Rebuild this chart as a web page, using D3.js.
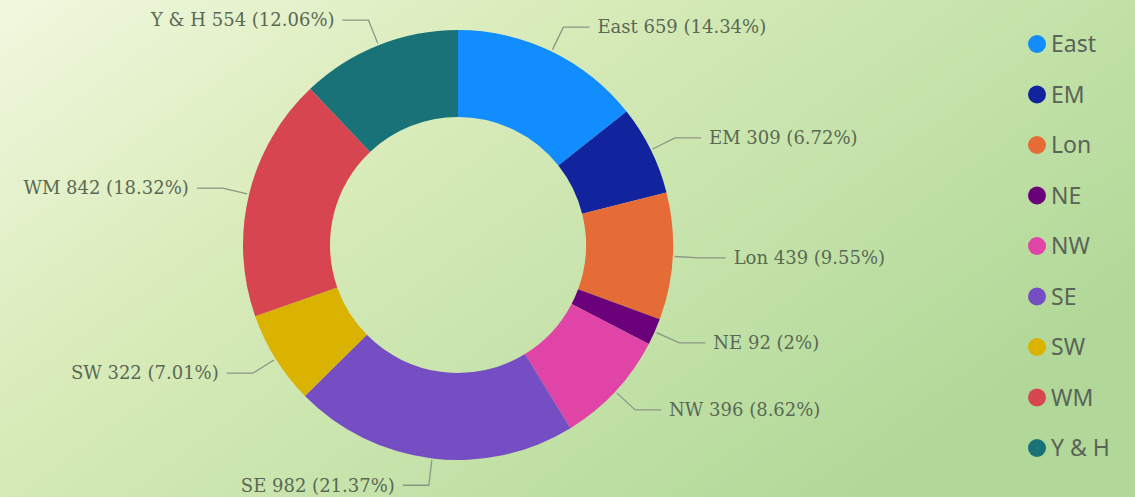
<!DOCTYPE html>
<html>
<head>
<meta charset="utf-8">
<script src="https://cdn.jsdelivr.net/npm/d3@7"></script>
<style>
  html, body { margin: 0; padding: 0; }
  body { width: 1135px; height: 497px; overflow: hidden; }
</style>
</head>
<body>
<div id="chart"></div>
<script>
'use strict';

// ------------ DATA ---------------- //

const REGIONS  = ['East', 'EM', 'Lon', 'NE', 'NW', 'SE', 'SW', 'WM', 'Y & H'];
const COUNTS   = [659, 309, 439, 92, 396, 982, 322, 842, 554];
const PERCENTS = ['14.34%', '6.72%', '9.55%', '2%', '8.62%', '21.37%', '7.01%', '18.32%', '12.06%'];
const COLORS   = ['#118dff', '#12239e', '#e66c37', '#6b007b', '#e044a7', '#744ec2', '#d9b300', '#d64550', '#197278'];

// ------------ LAYOUT ---------------- //

const width   = 1135;
const height  = 497;
const cx      = 458;
const cy      = 245;
const outerR  = 215;
const innerR  = 128;
const elbowR  = 242;
const tailLen = 26;

const svg = d3.select('#chart')
    .append('svg')
    .attr('width', width)
    .attr('height', height);

// background gradient
const defs = svg.append('defs');
const grad = defs.append('linearGradient')
    .attr('id', 'bg')
    .attr('x1', '0').attr('y1', '0')
    .attr('x2', '1').attr('y2', '0.6');
grad.append('stop').attr('offset', '0').attr('stop-color', '#f1f8df');
grad.append('stop').attr('offset', '0.35').attr('stop-color', '#daecbb');
grad.append('stop').attr('offset', '0.7').attr('stop-color', '#c4e2a9');
grad.append('stop').attr('offset', '1').attr('stop-color', '#b1d898');

svg.append('rect')
    .attr('width', width)
    .attr('height', height)
    .attr('fill', 'url(#bg)');

const data = REGIONS.map((name, i) => ({name, value: COUNTS[i], pct: PERCENTS[i], color: COLORS[i]}));

const pie = d3.pie().sort(null).value(d => d.value);
const arcs = pie(data);

const arc = d3.arc().innerRadius(innerR).outerRadius(outerR);
const pointAt = (r, a) => [r * Math.sin(a), -r * Math.cos(a)];

const g = svg.append('g').attr('transform', `translate(${cx},${cy})`);

g.selectAll('path.slice')
    .data(arcs)
    .enter()
    .append('path')
    .attr('class', 'slice')
    .attr('d', arc)
    .attr('fill', d => d.data.color);

// leader lines + labels
const labels = g.selectAll('g.label')
    .data(arcs)
    .enter()
    .append('g')
    .attr('class', 'label');

labels.each(function(d) {
    const mid   = (d.startAngle + d.endAngle) / 2;
    const right = mid < Math.PI;
    const p0    = pointAt(outerR + 2, mid);
    const p1    = pointAt(elbowR, mid);
    const p2    = [p1[0] + (right ? tailLen : -tailLen), p1[1]];
    const sel   = d3.select(this);

    sel.append('polyline')
        .attr('points', [p0, p1, p2].map(p => p.join(',')).join(' '))
        .attr('fill', 'none')
        .attr('stroke', '#8a9784')
        .attr('stroke-width', 1.3);

    sel.append('text')
        .attr('x', p2[0] + (right ? 8 : -8))
        .attr('y', p2[1])
        .attr('dy', '0.35em')
        .attr('text-anchor', right ? 'start' : 'end')
        .attr('font-family', '"DejaVu Serif", serif')
        .attr('font-size', 18)
        .attr('fill', '#5a6854')
        .text(`${d.data.name} ${d.data.value} (${d.data.pct})`);
});

// legend
const legendY = d3.scalePoint()
    .domain(REGIONS)
    .range([44, 448]);

const legend = svg.append('g')
    .selectAll('g')
    .data(data)
    .enter()
    .append('g')
    .attr('transform', d => `translate(1037,${legendY(d.name)})`);

legend.append('circle')
    .attr('r', 9)
    .attr('fill', d => d.color);

legend.append('text')
    .attr('x', 14)
    .attr('dy', '0.36em')
    .attr('font-family', '"Noto Sans", sans-serif')
    .attr('font-size', 23)
    .attr('fill', '#5a6457')
    .text(d => d.name);
</script>
</body>
</html>
